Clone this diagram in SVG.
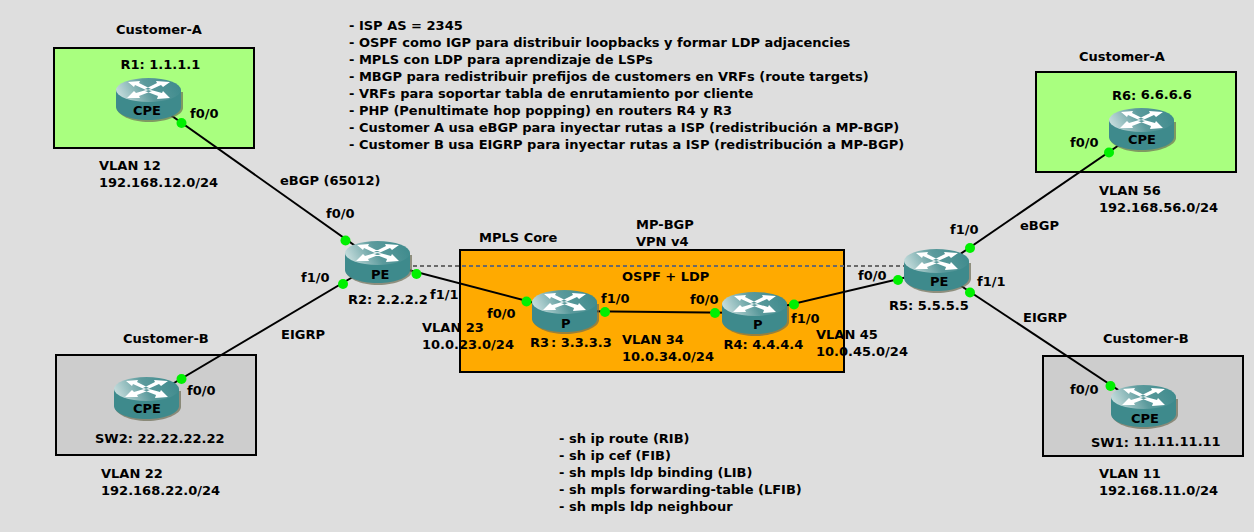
<svg xmlns="http://www.w3.org/2000/svg" width="1254" height="532" viewBox="0 0 1254 532">
<style>
text{font-family:"DejaVu Sans",sans-serif;font-weight:700;font-size:13px;fill:#000}
.link{stroke:#000;stroke-width:2;fill:none}
.dash{stroke:#6a6a6a;stroke-width:2;stroke-dasharray:4 3;fill:none}
.dot{fill:#00f000}
.box{stroke:#000;stroke-width:2}
</style>
<defs>
<linearGradient id="top" x1="0" y1="0.6" x2="1" y2="0.4"><stop offset="0" stop-color="#c8dede"/><stop offset="0.5" stop-color="#5b9a9c"/><stop offset="1" stop-color="#3f8b8d"/></linearGradient>
<g id="router">
<path d="M1 14V30C1 37 15 44 33 44S67 37 67 30V14Z" fill="#6e6e56" opacity=".7"/>
<path d="M0 12V29C0 36 14 42 32.500 42S65 36 65 29V12Z" fill="#3e8a8c"/>
<ellipse cx="32.500" cy="12" rx="32.500" ry="12" fill="url(#top)"/>
<path d="M12 4L24 3L23 5L35 11L30 12L19 7L18 9Z M54 4L40 3L41 5L29 11L34 12L45 7L47 9Z M11 20L24 20L23 18L36 13L30 12L20 15L18 13Z M54 20L41 21L42 18L29 13L35 12L46 15L47 13Z" fill="#fff"/>
</g>
</defs>
<rect width="1254" height="532" fill="#dedede"/>
<g id="areas">
<rect class="box" x="54" y="48" width="200" height="100" fill="#a9ff7f"/>
<rect class="box" x="56" y="355" width="200" height="100" fill="#cdcdcd"/>
<rect class="box" x="460" y="250" width="384" height="122" fill="#ffaa00"/>
<rect class="box" x="1036" y="72" width="200" height="100" fill="#a9ff7f"/>
<rect class="box" x="1043" y="356" width="200" height="100" fill="#cdcdcd"/>
</g>
<g id="connectors">
<path class="dash" d="M378 266H937"/>
<path class="link" d="M148 99L378 262"/>
<path class="link" d="M147 399L378 262"/>
<path class="link" d="M378 262L565 311"/>
<path class="link" d="M565 311L755 313"/>
<path class="link" d="M755 313L937 270"/>
<path class="link" d="M937 270L1141 130"/>
<path class="link" d="M937 270L1144 407"/>
</g>
<g id="R1"><use href="#router" x="116" y="78"/><text x="120.500" y="69">R1: 1.1.1.1</text><text x="133" y="115">CPE</text><text x="190" y="118">f0/0</text></g>
<g id="SW2"><use href="#router" x="114" y="377"/><text x="95" y="443">SW2: 22.22.22.22</text><text x="133" y="413">CPE</text><text x="187" y="395">f0/0</text></g>
<g id="R2"><use href="#router" x="345" y="241"/><text x="348" y="304">R2: 2.2.2.2</text><text x="371" y="279">PE</text><text x="326" y="218">f0/0</text><text x="301" y="282">f1/0</text><text x="430" y="299">f1/1</text></g>
<g id="R3"><use href="#router" x="532" y="290"/><text x="530" y="347">R3<tspan dx="2">: 3.3.3.3</tspan></text><text x="561" y="328">P</text><text x="487" y="318">f0/0</text><text x="601" y="303">f1/0</text></g>
<g id="R4"><use href="#router" x="722" y="292"/><text x="723.500" y="349">R4: 4.4.4.4</text><text x="753" y="329">P</text><text x="690" y="304">f0/0</text><text x="791" y="323">f1/0</text></g>
<g id="R5"><use href="#router" x="904" y="249"/><text x="889" y="310">R5: 5.5.5.5</text><text x="930" y="286">PE</text><text x="858" y="280">f0/0</text><text x="950" y="234">f1/0</text><text x="977" y="286">f1/1</text></g>
<g id="R6"><use href="#router" x="1109" y="108"/><text x="1112" y="100">R6:<tspan dy="-1"> 6.6.6.6</tspan></text><text x="1128" y="144">CPE</text><text x="1070" y="147">f0/0</text></g>
<g id="SW1"><use href="#router" x="1111" y="385"/><text x="1091" y="447">SW1:<tspan dy="-1"> 11.11.11.11</tspan></text><text x="1131" y="423">CPE</text><text x="1070" y="394">f0/0</text></g>
<g id="ports">
<circle class="dot" cx="181.500" cy="123" r="5"/>
<circle class="dot" cx="345.500" cy="240.500" r="5"/>
<circle class="dot" cx="343" cy="284" r="5"/>
<circle class="dot" cx="181.500" cy="379" r="5"/>
<circle class="dot" cx="416.500" cy="274" r="5"/>
<circle class="dot" cx="526.500" cy="301.500" r="5"/>
<circle class="dot" cx="605" cy="312" r="5"/>
<circle class="dot" cx="715" cy="313" r="5"/>
<circle class="dot" cx="794" cy="304.500" r="5"/>
<circle class="dot" cx="898" cy="280" r="5"/>
<circle class="dot" cx="970" cy="248" r="5"/>
<circle class="dot" cx="970" cy="292.500" r="5"/>
<circle class="dot" cx="1109" cy="152.500" r="5"/>
<circle class="dot" cx="1110.500" cy="386" r="5"/>
</g>
<g id="labels">
<text x="116" y="34">Customer-A</text>
<text x="123" y="343">Customer-B</text>
<text x="1079" y="61">Customer-A</text>
<text x="1103" y="343">Customer-B</text>
<text x="99" y="170">VLAN 12</text><text x="99" y="187">192.168.12.0/24</text>
<text x="101" y="478">VLAN 22</text><text x="101" y="495">192.168.22.0/24</text>
<text x="1099" y="195">VLAN 56</text><text x="1099" y="212">192.168.56.0/24</text>
<text x="1099" y="478">VLAN 11</text><text x="1099" y="495">192.168.11.0/24</text>
<text x="422" y="332">VLAN 23</text><text x="422" y="349">10.0.23.0/24</text>
<text x="622" y="344">VLAN 34</text><text x="622" y="361">10.0.34.0/24</text>
<text x="816" y="339">VLAN 45</text><text x="816" y="356">10.0.45.0/24</text>
<text x="280" y="185">eBGP (65012)</text>
<text x="281" y="339">EIGRP</text>
<text x="1020" y="230">eBGP</text>
<text x="1023" y="322">EIGRP</text>
<text x="479" y="242">MPLS Core</text>
<text x="636" y="229">MP-BGP</text>
<text x="636" y="246">VPN v4</text>
<text x="622" y="281">OSPF + LDP</text>
<text x="349" y="30">- ISP AS = 2345</text>
<text x="349" y="47">- OSPF como IGP para distribuir loopbacks y formar LDP adjacencies</text>
<text x="349" y="64">- MPLS con LDP para aprendizaje de LSPs</text>
<text x="349" y="81">- MBGP para redistribuir prefijos de customers en VRFs (route targets)</text>
<text x="349" y="98">- VRFs para soportar tabla de enrutamiento por cliente</text>
<text x="349" y="115">- PHP (Penultimate hop popping) en routers R4 y R3</text>
<text x="349" y="132">- Customer A usa eBGP para inyectar rutas a ISP (redistribución a MP-BGP)</text>
<text x="349" y="149">- Customer B usa EIGRP para inyectar rutas a ISP (redistribución a MP-BGP)</text>
<text x="559" y="443">- sh ip route (RIB)</text>
<text x="559" y="460">- sh ip cef (FIB)</text>
<text x="559" y="477">- sh mpls ldp binding (LIB)</text>
<text x="559" y="494">- sh mpls forwarding-table (LFIB)</text>
<text x="559" y="511">- sh mpls ldp neighbour</text>
</g>
</svg>
